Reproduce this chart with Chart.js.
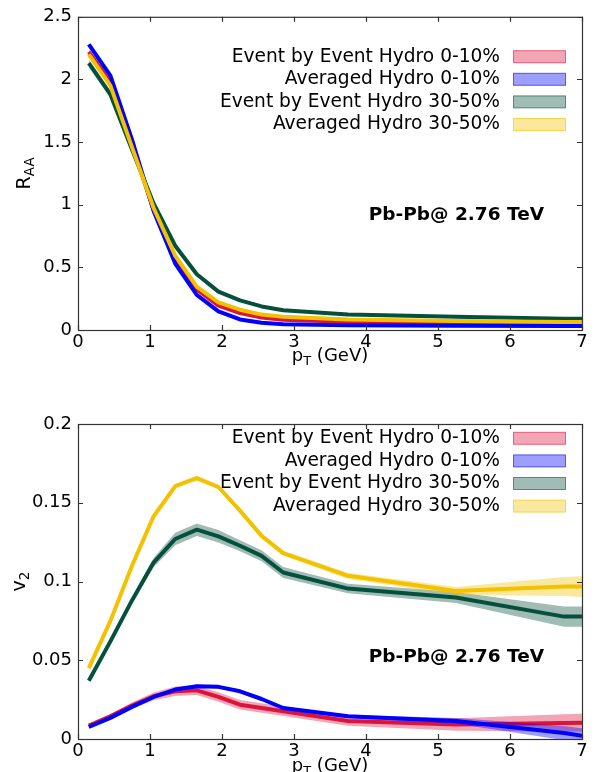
<!DOCTYPE html>
<html>
<head>
<meta charset="utf-8">
<script src="https://cdn.jsdelivr.net/npm/chart.js@4"></script>
<style>
  html, body { margin: 0; padding: 0; background: #fff; }
  canvas { position: absolute; left: 0; }
</style>
</head>
<body>
<canvas id="raa" width="599" height="386" style="top:0"></canvas>
<canvas id="v2" width="599" height="386" style="top:386px"></canvas>
<script>
const FONT = "'DejaVu Sans', sans-serif";

const seriesNames = [
    "Event by Event Hydro 0-10%",
    "Averaged Hydro 0-10%",
    "Event by Event Hydro 30-50%",
    "Averaged Hydro 30-50%",
];
const lineColors = ["#dc143c", "#0000ff", "#05503c", "#f2c200"];
const bandColors = [
    "rgba(220,20,60,0.38)",
    "rgba(0,0,255,0.38)",
    "rgba(5,80,60,0.38)",
    "rgba(242,194,0,0.38)",
];

const pt = [0.15, 0.45, 0.75, 1.05, 1.35, 1.65, 1.95, 2.25, 2.55, 2.85, 3.75, 5.25, 6.75, 7.0];
const xTicks = [0, 1, 2, 3, 4, 5, 6, 7];

// R_AA panel
const raaTicks = [0, 0.5, 1, 1.5, 2, 2.5];
const raaEbe010 = [2.22, 1.98, 1.48, 0.96, 0.57, 0.325, 0.195, 0.135, 0.1, 0.082, 0.066, 0.055, 0.048, 0.047];
const raaEbe010Err = [0.02, 0.02, 0.015, 0.01, 0.008, 0.006, 0.005, 0.004, 0.004, 0.004, 0.003, 0.003, 0.003, 0.003];
const raaAvg010 = [2.28, 2.03, 1.52, 0.95, 0.53, 0.28, 0.149, 0.084, 0.058, 0.045, 0.038, 0.033, 0.031, 0.031];
const raaAvg010Err = [0.01, 0.01, 0.008, 0.006, 0.005, 0.004, 0.003, 0.002, 0.002, 0.002, 0.002, 0.002, 0.002, 0.002];
const raaEbe3050 = [2.13, 1.88, 1.44, 1.01, 0.673, 0.445, 0.306, 0.236, 0.188, 0.157, 0.123, 0.105, 0.09, 0.089];
const raaEbe3050Err = [0.03, 0.03, 0.02, 0.015, 0.01, 0.008, 0.006, 0.005, 0.005, 0.004, 0.004, 0.004, 0.004, 0.004];
const raaAvg3050 = [2.2, 1.95, 1.46, 0.974, 0.594, 0.346, 0.22, 0.162, 0.123, 0.105, 0.084, 0.071, 0.064, 0.063];
const raaAvg3050Err = [0.01, 0.01, 0.008, 0.006, 0.005, 0.004, 0.003, 0.003, 0.002, 0.002, 0.002, 0.002, 0.002, 0.002];

// v2 panel
const v2Ticks = [0, 0.05, 0.1, 0.15, 0.2];
const v2Ebe010 = [0.0085, 0.0144, 0.0212, 0.0271, 0.0303, 0.0309, 0.0267, 0.0218, 0.0197, 0.0176, 0.0114, 0.0092, 0.0102, 0.0103];
const v2Ebe010Err = [0.001, 0.0015, 0.002, 0.0025, 0.003, 0.003, 0.003, 0.003, 0.003, 0.003, 0.003, 0.004, 0.0055, 0.0057];
const v2Avg010 = [0.0076, 0.0134, 0.0204, 0.0267, 0.0314, 0.0335, 0.0331, 0.0303, 0.0254, 0.0197, 0.0144, 0.0115, 0.0038, 0.0021];
const v2Avg010Err = [0.0005, 0.0005, 0.0007, 0.0008, 0.001, 0.001, 0.001, 0.001, 0.001, 0.001, 0.001, 0.0018, 0.0045, 0.0048];
const v2Ebe3050 = [0.037, 0.062, 0.088, 0.112, 0.127, 0.1329, 0.1287, 0.1227, 0.1163, 0.1057, 0.0955, 0.0898, 0.0777, 0.0777];
const v2Ebe3050Err = [0.001, 0.0015, 0.002, 0.003, 0.004, 0.004, 0.004, 0.0035, 0.0035, 0.0035, 0.003, 0.0035, 0.0064, 0.0064];
const v2Avg3050 = [0.045, 0.075, 0.11, 0.1414, 0.1605, 0.1656, 0.16, 0.145, 0.129, 0.118, 0.1036, 0.094, 0.0968, 0.0968];
const v2Avg3050Err = [0.001, 0.001, 0.001, 0.001, 0.001, 0.0015, 0.0015, 0.0015, 0.0015, 0.0015, 0.002, 0.0025, 0.006, 0.0066];

function buildDatasets(centers, errs) {
    const out = [];
    centers.forEach((c, s) => {
        const lo = c.map((v, i) => ({ x: pt[i], y: v - errs[s][i] }));
        const hi = c.map((v, i) => ({ x: pt[i], y: v + errs[s][i] }));
        const mid = c.map((v, i) => ({ x: pt[i], y: v }));
        out.push({ label: "lo", data: lo, borderWidth: 0, fill: false });
        out.push({ label: "hi", data: hi, borderWidth: 0, fill: "-1", backgroundColor: bandColors[s] });
        out.push({
            label: seriesNames[s],
            data: mid,
            borderColor: lineColors[s],
            borderWidth: 4,
            borderJoinStyle: "round",
            fill: false,
        });
    });
    // later series on top, like the original plot
    out.forEach((d, i) => {
        d.order = -i;
        d.pointRadius = 0;
        d.tension = 0;
        d.clip = 0;
    });
    return out;
}

// text with subscripts, parts = [[text, size, shift], ...]
function drawParts(ctx, parts, x, y, rotate) {
    ctx.save();
    ctx.translate(x, y);
    if (rotate) ctx.rotate(-Math.PI / 2);
    ctx.textBaseline = "alphabetic";
    ctx.textAlign = "left";
    let w = 0;
    parts.forEach(([t, sz]) => {
        ctx.font = sz + "px " + FONT;
        w += ctx.measureText(t).width;
    });
    let cx = -w / 2;
    parts.forEach(([t, sz, sh]) => {
        ctx.font = sz + "px " + FONT;
        ctx.fillText(t, cx, 6 + sh);
        cx += ctx.measureText(t).width;
    });
    ctx.restore();
}

const decorPlugin = {
    id: "decor",
    afterDraw(chart, args, opts) {
        const { ctx, chartArea: a, scales } = chart;
        const x = scales.x, y = scales.y;
        ctx.save();
        ctx.strokeStyle = "#333";
        ctx.lineWidth = 1.2;
        ctx.strokeRect(a.left + 0.5, a.top + 0.5, a.width, a.height);
        const L = 5;
        ctx.beginPath();
        x.ticks.forEach((t) => {
            const px = Math.round(x.getPixelForValue(t.value)) + 0.5;
            ctx.moveTo(px, a.bottom); ctx.lineTo(px, a.bottom - L);
            ctx.moveTo(px, a.top); ctx.lineTo(px, a.top + L);
        });
        y.ticks.forEach((t) => {
            const py = Math.round(y.getPixelForValue(t.value)) + 0.5;
            ctx.moveTo(a.left, py); ctx.lineTo(a.left + L, py);
            ctx.moveTo(a.right, py); ctx.lineTo(a.right - L, py);
        });
        ctx.stroke();

        // legend
        ctx.font = "18.6px " + FONT;
        ctx.textAlign = "right";
        ctx.textBaseline = "middle";
        seriesNames.forEach((name, i) => {
            const cy = opts.legendY + i * 22.6;
            ctx.fillStyle = "#000";
            ctx.fillText(name, 500, cy);
            ctx.fillStyle = bandColors[i];
            ctx.fillRect(513.5, cy - 6, 52, 12);
            ctx.strokeStyle = lineColors[i];
            ctx.globalAlpha = 0.6;
            ctx.lineWidth = 1;
            ctx.strokeRect(513.5, cy - 6, 52, 12);
            ctx.globalAlpha = 1;
        });

        // annotation
        ctx.fillStyle = "#000";
        ctx.font = "bold 18.5px " + FONT;
        ctx.fillText("Pb-Pb@ 2.76 TeV", 544, opts.noteY);

        // axis titles
        drawParts(ctx, [["p", 18, 0], ["T", 13, 4], [" (GeV)", 18, 0]], (a.left + a.right) / 2, opts.xTitleY, false);
        drawParts(ctx, opts.yTitle, opts.yTitleX, (a.top + a.bottom) / 2, true);
        ctx.restore();
    },
};

function makeChart(id, datasets, ticks, yMax, top, bottom, decor) {
    const el = document.getElementById(id);
    return new Chart(el.getContext("2d"), {
        type: "line",
        data: { datasets },
        options: {
            responsive: false,
            animation: false,
            events: [],
            layout: { padding: { top: top, right: 17, left: 0, bottom: 0 } },
            plugins: {
                legend: { display: false },
                tooltip: { enabled: false },
                filler: { propagate: false },
                decor: decor,
            },
            scales: {
                x: {
                    type: "linear",
                    min: 0,
                    max: 7,
                    grid: { display: false, drawTicks: false },
                    border: { display: false },
                    ticks: { color: "#000", font: { family: FONT, size: 18 }, padding: 2, maxRotation: 0, autoSkip: false },
                    afterBuildTicks: (s) => { s.ticks = xTicks.map((v) => ({ value: v })); },
                    afterFit: (s) => { s.height = 386 - bottom; },
                },
                y: {
                    type: "linear",
                    min: 0,
                    max: yMax,
                    grid: { display: false, drawTicks: false },
                    border: { display: false },
                    ticks: {
                        color: "#000",
                        font: { family: FONT, size: 18 },
                        padding: 6,
                        autoSkip: false,
                        callback: (v) => String(v),
                    },
                    afterBuildTicks: (s) => { s.ticks = ticks.map((v) => ({ value: v })); },
                    afterFit: (s) => { s.width = 78; },
                },
            },
        },
        plugins: [decorPlugin],
    });
}

makeChart(
    "raa",
    buildDatasets(
        [raaEbe010, raaAvg010, raaEbe3050, raaAvg3050],
        [raaEbe010Err, raaAvg010Err, raaEbe3050Err, raaAvg3050Err]
    ),
    raaTicks, 2.5, 13, 330,
    { legendY: 56.7, noteY: 215, xTitleY: 355, yTitleX: 24, yTitle: [["R", 19, 0], ["AA", 13.5, 4]] }
);

makeChart(
    "v2",
    buildDatasets(
        [v2Ebe010, v2Avg010, v2Ebe3050, v2Avg3050],
        [v2Ebe010Err, v2Avg010Err, v2Ebe3050Err, v2Avg3050Err]
    ),
    v2Ticks, 0.2, 38, 353,
    { legendY: 52.3, noteY: 271, xTitleY: 379, yTitleX: 19, yTitle: [["v", 19, 0], ["2", 13.5, 4]] }
);
</script>
</body>
</html>
